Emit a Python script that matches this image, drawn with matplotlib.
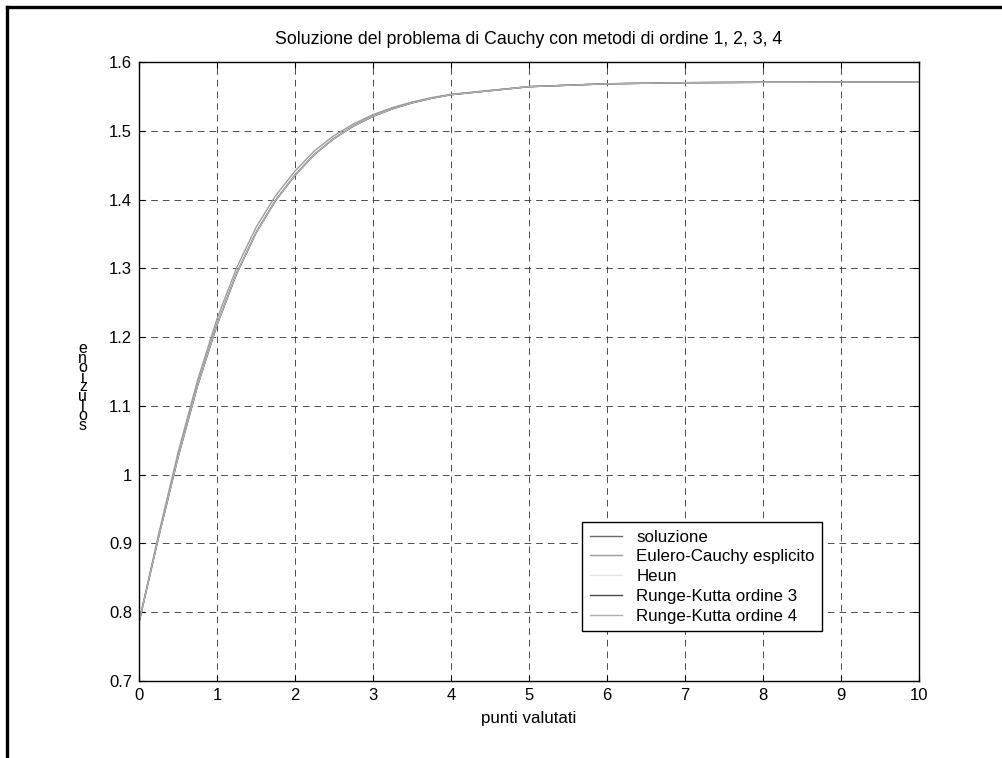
import numpy as np
import matplotlib.pyplot as plt
from matplotlib.lines import Line2D

plt.rcParams['font.family'] = ['Liberation Sans', 'DejaVu Sans']

# punti valutati
t = [0, 0.25, 0.5, 0.75, 1.0, 1.25, 1.5, 1.75, 2.0, 2.25, 2.5, 2.75, 3.0,
     3.25, 3.5, 3.75, 4.0, 5, 6, 7, 8, 9, 10]

soluzione = [0.7854, 0.9091, 1.0255, 1.1294, 1.2182, 1.2922, 1.3518, 1.3987,
             1.4355, 1.4658, 1.4889, 1.5069, 1.5211, 1.5320, 1.5406, 1.5473,
             1.5525, 1.5641, 1.5683, 1.5699, 1.5705, 1.5707, 1.5708]
eulero = [0.7854, 0.9130, 1.0320, 1.1370, 1.2265, 1.3005, 1.3595, 1.4055,
          1.4415, 1.4710, 1.4930, 1.5100, 1.5235, 1.5338, 1.5418, 1.5482,
          1.5531, 1.5643, 1.5684, 1.5700, 1.5705, 1.5707, 1.5708]
heun = [0.7854, 0.9093, 1.0258, 1.1297, 1.2185, 1.2925, 1.3520, 1.3989,
        1.4357, 1.4659, 1.4890, 1.5070, 1.5212, 1.5321, 1.5406, 1.5473,
        1.5525, 1.5641, 1.5683, 1.5699, 1.5705, 1.5707, 1.5708]
rk3 = [0.7854, 0.9090, 1.0254, 1.1293, 1.2181, 1.2921, 1.3517, 1.3987,
       1.4355, 1.4658, 1.4889, 1.5069, 1.5211, 1.5320, 1.5406, 1.5473,
       1.5525, 1.5641, 1.5683, 1.5699, 1.5705, 1.5707, 1.5708]
rk4 = [0.7854, 0.9091, 1.0255, 1.1294, 1.2182, 1.2922, 1.3518, 1.3987,
       1.4355, 1.4658, 1.4889, 1.5069, 1.5211, 1.5320, 1.5406, 1.5473,
       1.5525, 1.5641, 1.5683, 1.5699, 1.5705, 1.5707, 1.5708]

nomi = ['soluzione', 'Eulero-Cauchy esplicito', 'Heun',
        'Runge-Kutta ordine 3', 'Runge-Kutta ordine 4']
serie = [soluzione, eulero, heun, rk3, rk4]
grigi = ['#6a6a6a', '#9c9c9c', '#e4e4e4', '#4a4a4a', '#b0b0b0']

fig = plt.figure(figsize=(10.03, 7.58), dpi=100)
ax = fig.add_axes([0.1386, 0.1016, 0.7777, 0.8166])

for y, nome, c in zip(serie, nomi, grigi):
    ax.plot(t, y, color=c, lw=1.0, label=nome)

ax.set_xlim(0, 10)
ax.set_ylim(0.7, 1.6)
ax.set_xticks(np.arange(0, 11, 1))
ax.set_yticks(np.round(np.arange(0.7, 1.61, 0.1), 1))
ax.set_yticklabels(['0.7', '0.8', '0.9', '1', '1.1', '1.2', '1.3', '1.4', '1.5', '1.6'])
ax.grid(True, color='#303030', lw=0.6, dashes=(8, 6))
ax.tick_params(direction='in', length=4, width=0.8, top=True, right=True,
               labelsize=12, pad=5, colors='black')
for s in ax.spines.values():
    s.set_linewidth(1.0)

ax.set_title('Soluzione del problema di Cauchy con metodi di ordine 1, 2, 3, 4',
             fontsize=12.8, pad=13)
ax.set_xlabel('punti valutati', fontsize=12.2, labelpad=6)
ax.set_ylabel('e\nn\no\ni\nz\nu\nl\no\ns', fontsize=11.5, rotation=0,
              linespacing=0.55, va='center', labelpad=40)
ax.yaxis.set_label_coords(-0.072, 0.475)

leg = ax.legend(loc='upper left', bbox_to_anchor=(0.568, 0.257), fontsize=12.2,
                frameon=True, fancybox=False, framealpha=1, edgecolor='black',
                handlelength=1.9, borderaxespad=0, labelspacing=0.28,
                borderpad=0.45, handletextpad=0.85)
leg.get_frame().set_linewidth(1.0)

# cornice esterna (solo lati superiore e sinistro)
fig.add_artist(Line2D([0.007, 1.0], [0.9908, 0.9908], color='black', lw=2.4))
fig.add_artist(Line2D([0.007, 0.007], [0.0, 0.9908], color='black', lw=2.4))

fig.savefig('out.png', dpi=100)
